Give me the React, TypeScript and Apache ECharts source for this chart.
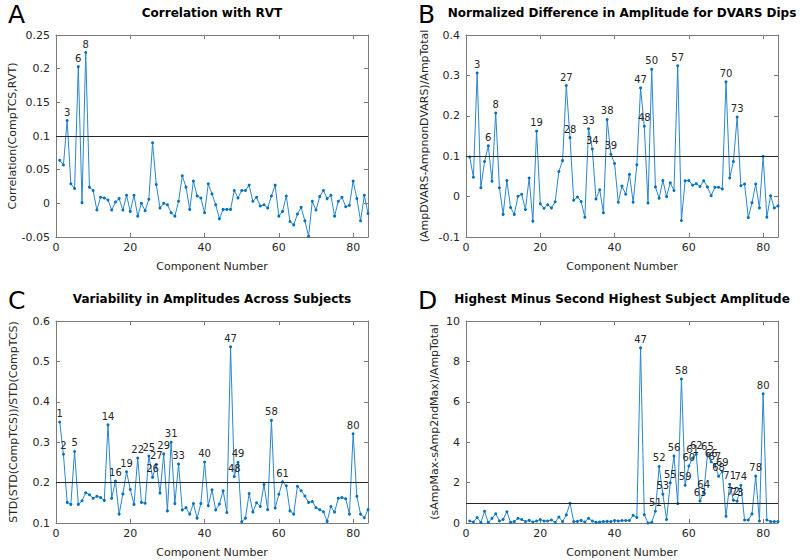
import React, { useEffect, useRef } from "react";
import * as echarts from "echarts";

// Panel A: Correlation with RVT (components 1..84)
const corrRVT = [
  0.064, 0.057, 0.123, 0.029, 0.022, 0.203, 0.001, 0.224, 0.024, 0.019,
  -0.010, 0.009, 0.008, 0.005, -0.010, 0.002, 0.007, -0.010, 0.012, -0.012,
  0.012, -0.019, 0.000, -0.011, 0.006, 0.090, 0.028, -0.007, 0.000, -0.002,
  -0.014, -0.019, 0.003, 0.041, 0.024, -0.009, 0.033, 0.011, 0.008, -0.014,
  0.029, 0.014, -0.002, -0.023, -0.009, -0.009, -0.009, 0.019, 0.008, 0.019,
  0.019, 0.027, 0.003, 0.009, -0.004, -0.002, -0.007, 0.011, 0.027, -0.019,
  -0.012, 0.011, -0.027, -0.032, -0.016, -0.006, -0.026, -0.049, 0.003, -0.010,
  0.010, 0.019, 0.007, 0.012, -0.019, 0.003, 0.009, -0.005, -0.003, 0.033,
  0.007, -0.026, 0.012, -0.015,
];
const labelsA = [3, 6, 8];

// Panel B: Normalized Difference in Amplitude for DVARS Dips
const ampDiffDVARS = [
  0.098, 0.048, 0.306, 0.022, 0.087, 0.126, 0.038, 0.207, 0.022, -0.044,
  0.040, -0.027, -0.044, 0.001, 0.006, -0.032, 0.046, -0.061, 0.162, -0.018,
  -0.029, -0.020, -0.028, -0.013, 0.062, 0.089, 0.275, 0.146, -0.009, -0.001,
  -0.012, -0.051, 0.168, 0.118, -0.006, 0.017, -0.040, 0.191, 0.105, 0.082,
  -0.014, 0.026, 0.006, 0.055, -0.014, 0.079, 0.269, 0.174, -0.016, 0.315,
  0.024, -0.004, 0.040, 0.000, 0.034, 0.015, 0.324, -0.059, 0.039, 0.040,
  0.028, 0.032, 0.025, 0.039, 0.024, 0.002, 0.023, 0.023, 0.019, 0.284,
  0.046, 0.087, 0.197, 0.027, 0.031, -0.052, -0.015, 0.031, -0.028, 0.100,
  -0.051, 0.002, -0.028, -0.023,
];
const labelsB = [3, 6, 8, 19, 27, 28, 33, 34, 38, 39, 47, 48, 50, 57, 70, 73];

// Panel C: Variability in Amplitudes Across Subjects
const ampVariability = [
  0.350, 0.270, 0.151, 0.146, 0.277, 0.146, 0.155, 0.175, 0.170, 0.161,
  0.166, 0.163, 0.156, 0.343, 0.161, 0.204, 0.122, 0.172, 0.227, 0.183,
  0.146, 0.261, 0.151, 0.149, 0.266, 0.213, 0.245, 0.174, 0.271, 0.130,
  0.300, 0.148, 0.246, 0.132, 0.138, 0.122, 0.148, 0.112, 0.148, 0.251,
  0.143, 0.182, 0.132, 0.147, 0.180, 0.126, 0.536, 0.215, 0.250, 0.103,
  0.112, 0.173, 0.127, 0.150, 0.141, 0.195, 0.133, 0.354, 0.137, 0.171,
  0.202, 0.192, 0.130, 0.122, 0.191, 0.180, 0.167, 0.151, 0.153, 0.138,
  0.133, 0.128, 0.104, 0.141, 0.127, 0.161, 0.163, 0.160, 0.122, 0.321,
  0.166, 0.122, 0.113, 0.133,
];
const labelsC = [1, 2, 5, 14, 16, 19, 22, 25, 26, 27, 29, 31, 33, 40, 47, 48, 49, 58, 61, 80];

// Panel D: Highest Minus Second Highest Subject Amplitude
const ampMaxDiff = [
  0.10, 0.05, 0.27, 0.03, 0.58, 0.03, 0.23, 0.46, 0.10, 0.18,
  0.56, 0.03, 0.07, 0.23, 0.17, 0.07, 0.13, 0.05, 0.10, 0.17,
  0.10, 0.10, 0.15, 0.03, 0.30, 0.07, 0.40, 0.98, 0.07, 0.08,
  0.13, 0.05, 0.23, 0.10, 0.03, 0.05, 0.07, 0.08, 0.07, 0.12,
  0.10, 0.12, 0.12, 0.12, 0.38, 0.27, 8.67, 0.41, 0.00, 0.03,
  0.58, 2.80, 1.43, 0.17, 1.99, 3.32, 0.96, 7.13, 1.87, 2.82,
  3.22, 3.40, 1.09, 1.49, 3.38, 3.03, 2.89, 2.31, 2.55, 0.33,
  1.92, 1.13, 1.08, 1.87, 0.15, 0.15, 0.45, 2.32, 0.10, 6.40,
  0.15, 0.07, 0.07, 0.07,
];
const labelsD = [47, 51, 52, 53, 55, 56, 58, 59, 60, 61, 62, 63, 64, 65, 66, 67, 68, 69, 71, 72, 73, 74, 78, 80];

const FONT = "DejaVu Sans";
const AXIS_COLOR = "#262626";
const BOX_COLOR = "#7a7a7a";
const LINE_COLOR = "#2a86cf";
const MARKER_COLOR = "#0072BD";

const panels = [
  {
    letter: "A", title: "Correlation with RVT", yName: "Correlation(CompTCS,RVT)",
    values: corrRVT, labels: labelsA, threshold: 0.1,
    yMin: -0.05, yMax: 0.25, yInterval: 0.05,
    left: 56, top: 35, nameGap: 38, letterX: 8, letterY: 2,
  },
  {
    letter: "B", title: "Normalized Difference in Amplitude for DVARS Dips", yName: "(AmpDVARS-AmpnonDVARS)/AmpTotal",
    values: ampDiffDVARS, labels: labelsB, threshold: 0.1,
    yMin: -0.1, yMax: 0.4, yInterval: 0.1,
    left: 466, top: 35, nameGap: 36, letterX: 418, letterY: 2,
  },
  {
    letter: "C", title: "Variability in Amplitudes Across Subjects", yName: "STD(STD(CompTCS))/STD(CompTCS)",
    values: ampVariability, labels: labelsC, threshold: 0.2,
    yMin: 0.1, yMax: 0.6, yInterval: 0.1,
    left: 56, top: 321, nameGap: 37, letterX: 8, letterY: 288,
  },
  {
    letter: "D", title: "Highest Minus Second Highest Subject Amplitude", yName: "(sAmpMax-sAmp2ndMax)/AmpTotal",
    values: ampMaxDiff, labels: labelsD, threshold: 1,
    yMin: 0, yMax: 10, yInterval: 2,
    left: 466, top: 321, nameGap: 26, letterX: 418, letterY: 288,
  },
];

const GRID_W = 312;
const GRID_H = 202;

export default function App() {
  const ref = useRef<HTMLDivElement>(null);
  useEffect(() => {
    if (!ref.current) return;
    const chart = echarts.init(ref.current, undefined, { renderer: "svg" });

    const grid: any[] = [];
    const xAxis: any[] = [];
    const yAxis: any[] = [];
    const series: any[] = [];
    const graphic: any[] = [];

    panels.forEach((p, k) => {
      grid.push({ left: p.left, top: p.top, width: GRID_W, height: GRID_H, containLabel: false });
      const tickStyle = { show: true, inside: true, length: 4, lineStyle: { color: BOX_COLOR, width: 1 } };
      const lineStyle = { show: true, onZero: false, lineStyle: { color: BOX_COLOR, width: 1 } };
      xAxis.push({
        type: "value", gridIndex: k, position: "bottom", min: 0, max: 84, interval: 20,
        axisLine: lineStyle, axisTick: tickStyle, splitLine: { show: false },
        axisLabel: { color: AXIS_COLOR, fontSize: 11, fontFamily: FONT, margin: 5, showMaxLabel: false },
        name: "Component Number", nameLocation: "middle", nameGap: 24,
        nameTextStyle: { color: AXIS_COLOR, fontSize: 11, fontFamily: FONT },
      });
      xAxis.push({
        type: "value", gridIndex: k, position: "top", min: 0, max: 84, interval: 20,
        axisLine: lineStyle, axisTick: tickStyle, splitLine: { show: false },
        axisLabel: { show: false },
      });
      yAxis.push({
        type: "value", gridIndex: k, position: "left", min: p.yMin, max: p.yMax, interval: p.yInterval,
        axisLine: lineStyle, axisTick: tickStyle, splitLine: { show: false },
        axisLabel: { color: AXIS_COLOR, fontSize: 11, fontFamily: FONT, margin: 6 },
        name: p.yName, nameLocation: "middle", nameGap: p.nameGap, nameRotate: 90,
        nameTextStyle: { color: AXIS_COLOR, fontSize: 11, fontFamily: FONT },
      });
      yAxis.push({
        type: "value", gridIndex: k, position: "right", min: p.yMin, max: p.yMax, interval: p.yInterval,
        axisLine: lineStyle, axisTick: tickStyle, splitLine: { show: false },
        axisLabel: { show: false },
      });

      const labelSet = new Set(p.labels);
      const data = p.values.map((v, i) => {
        const comp = i + 1;
        return labelSet.has(comp)
          ? { value: [comp, v], label: { show: true } }
          : { value: [comp, v] };
      });

      series.push({
        type: "line",
        xAxisIndex: 2 * k,
        yAxisIndex: 2 * k,
        data,
        symbol: "circle",
        symbolSize: 3,
        showSymbol: true,
        lineStyle: { color: LINE_COLOR, width: 1 },
        itemStyle: { color: MARKER_COLOR },
        label: {
          show: false, position: "top", distance: 2,
          color: AXIS_COLOR, fontSize: 10, fontFamily: FONT,
          formatter: (prm: any) => String(prm.value[0]),
        },
        markLine: {
          silent: true,
          symbol: ["none", "none"],
          label: { show: false },
          lineStyle: { color: AXIS_COLOR, width: 1, type: "solid" },
          data: [{ yAxis: p.threshold }],
        },
        z: 3,
      });

      graphic.push({
        type: "text", x: p.left + GRID_W / 2, y: p.top - 22,
        style: {
          text: p.title, font: `bold 12px '${FONT}'`, fill: "#000",
          textAlign: "center", textVerticalAlign: "middle",
        },
      });
      graphic.push({
        type: "text", x: p.letterX, y: p.letterY,
        style: { text: p.letter, font: `25px '${FONT}'`, fill: "#000" },
      });
    });

    chart.setOption({
      animation: false,
      backgroundColor: "#fff",
      textStyle: { fontFamily: FONT },
      grid, xAxis, yAxis, series, graphic,
    });
    return () => chart.dispose();
  }, []);
  return (
    <div
      ref={ref}
      style={{ position: "fixed", left: 0, top: 0, width: 800, height: 560 }}
    />
  );
}
